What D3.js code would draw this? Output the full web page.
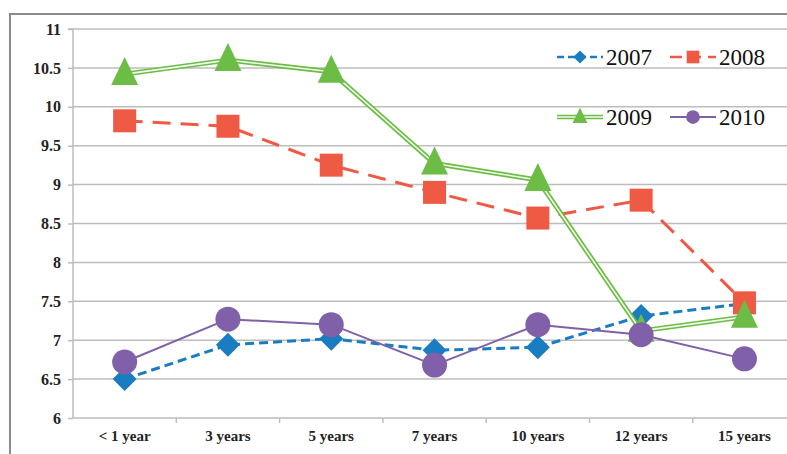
<!DOCTYPE html>
<html>
<head>
<meta charset="utf-8">
<script src="https://cdn.jsdelivr.net/npm/d3@7"></script>
<style>
  html, body { margin: 0; padding: 0; background: #fff; }
  svg { display: block; }
  .serif { font-family: "Liberation Serif", Tinos, "DejaVu Serif", "Noto Serif", serif; }
</style>
</head>
<body>
<svg id="chart" width="787" height="454"></svg>
<script>
// Categories along the x axis
const categories = ["< 1 year", "3 years", "5 years", "7 years", "10 years", "12 years", "15 years"];

// Series values, one per category
const values2007 = [6.50, 6.94, 7.02, 6.87, 6.91, 7.31, 7.47];
const values2008 = [9.82, 9.75, 9.25, 8.90, 8.57, 8.80, 7.48];
const values2009 = [10.42, 10.60, 10.45, 9.27, 9.06, 7.12, 7.30];
const values2010 = [6.72, 7.27, 7.20, 6.68, 7.20, 7.07, 6.76];

const seriesNames = ["2007", "2008", "2009", "2010"];
const yTicks = [6, 6.5, 7, 7.5, 8, 8.5, 9, 9.5, 10, 10.5, 11];

const series = [
  { name: seriesNames[0], values: values2007, color: "#1a7cc1", dash: "9,5", width: 3, marker: "diamond", double: false },
  { name: seriesNames[1], values: values2008, color: "#ef5a45", dash: "18,10", width: 3, marker: "square", double: false },
  { name: seriesNames[2], values: values2009, color: "#6cbd45", dash: null, width: 5, marker: "triangle", double: true },
  { name: seriesNames[3], values: values2010, color: "#8060a8", dash: null, width: 2, marker: "circle", double: false }
];

const svg = d3.select("#chart");

// Outer chart frame
svg.append("rect")
  .attr("x", 10).attr("y", 14)
  .attr("width", 800).attr("height", 460)
  .attr("fill", "#fff")
  .attr("stroke", "#8a8a8a")
  .attr("stroke-width", 2);

const plotLeft = 73, plotTop = 29, plotBottom = 418, bandW = 103.3;
const x = d3.scaleBand().domain(categories).range([plotLeft, plotLeft + bandW * categories.length]).paddingInner(0).paddingOuter(0);
const y = d3.scaleLinear().domain([6, 11]).range([plotBottom, plotTop]);
const cx = c => x(c) + x.bandwidth() / 2;

// Horizontal gridlines
svg.append("g").selectAll("line").data(yTicks.filter(t => t > 6)).join("line")
  .attr("x1", plotLeft).attr("x2", 787)
  .attr("y1", d => y(d)).attr("y2", d => y(d))
  .attr("stroke", "#bdbdbd").attr("stroke-width", 1.5);

// Y axis
const yAxis = d3.axisLeft(y).tickValues(yTicks).tickSize(5).tickPadding(7)
  .tickFormat(d => d3.format("")(d));
const gy = svg.append("g").attr("transform", `translate(${plotLeft},0)`).call(yAxis);
gy.attr("font-family", null).attr("font-size", null);
gy.select(".domain").attr("stroke", "#bdbdbd").attr("stroke-width", 1.5).attr("d", `M-5,${plotTop}H0V${plotBottom}`);
gy.selectAll(".tick line").attr("stroke", "#bdbdbd").attr("stroke-width", 1.5);
gy.selectAll(".tick text")
  .attr("class", "serif")
  .style("font-weight", "bold").style("font-size", "16px").attr("fill", "#222");

// X axis
const xAxis = d3.axisBottom(x).tickSize(0).tickPadding(12);
const gx = svg.append("g").attr("transform", `translate(0,${plotBottom})`).call(xAxis);
gx.attr("font-family", null).attr("font-size", null);
gx.select(".domain").attr("stroke", "#bdbdbd").attr("stroke-width", 1.5).attr("d", `M${plotLeft},0H787`);
gx.selectAll(".tick text")
  .attr("class", "serif")
  .style("font-weight", "bold").style("font-size", "15px").attr("fill", "#222");
// Band boundary ticks
svg.append("g").selectAll("line").data(categories.slice(1)).join("line")
  .attr("x1", d => x(d)).attr("x2", d => x(d))
  .attr("y1", plotBottom).attr("y2", plotBottom + 5)
  .attr("stroke", "#bdbdbd").attr("stroke-width", 1.5);

// Marker shapes
function drawMarker(g, type, px, py, color, scale) {
  const s = scale || 1;
  if (type === "diamond") {
    const r = 12 * s;
    g.append("path").attr("d", `M${px},${py - r}L${px + r},${py}L${px},${py + r}L${px - r},${py}Z`).attr("fill", color);
  } else if (type === "square") {
    const h = 11.5 * s;
    g.append("rect").attr("x", px - h).attr("y", py - h).attr("width", 2 * h).attr("height", 2 * h).attr("fill", color);
  } else if (type === "triangle") {
    const w = 13.5 * s, hUp = 17 * s, hDn = 11 * s;
    g.append("path").attr("d", `M${px},${py - hUp}L${px + w},${py + hDn}L${px - w},${py + hDn}Z`).attr("fill", color);
  } else if (type === "circle") {
    g.append("circle").attr("cx", px).attr("cy", py).attr("r", 12.5 * s).attr("fill", color);
  }
}

const line = d3.line().x((d, i) => cx(categories[i])).y(d => y(d));

series.forEach(s => {
  const g = svg.append("g");
  const p = g.append("path").datum(s.values).attr("d", line)
    .attr("fill", "none").attr("stroke", s.color).attr("stroke-width", s.width)
    .attr("stroke-linejoin", "round");
  if (s.dash) p.attr("stroke-dasharray", s.dash);
  if (s.double) {
    g.append("path").datum(s.values).attr("d", line)
      .attr("fill", "none").attr("stroke", "#f4fbef").attr("stroke-width", 1.6);
  }
  s.values.forEach((v, i) => drawMarker(g, s.marker, cx(categories[i]), y(v), s.color));
});

// Legend
const legendItems = [
  { s: series[0], lx: 557, ly: 57 },
  { s: series[1], lx: 670, ly: 57 },
  { s: series[2], lx: 557, ly: 117 },
  { s: series[3], lx: 670, ly: 117 }
];
legendItems.forEach(({ s, lx, ly }) => {
  const g = svg.append("g");
  const lw = 46;
  const ln = g.append("line").attr("x1", lx).attr("x2", lx + lw).attr("y1", ly).attr("y2", ly)
    .attr("stroke", s.color).attr("stroke-width", s.double ? 4.5 : (s.width === 2 ? 2 : 2.5));
  if (s.dash) ln.attr("stroke-dasharray", s.name === "2007" ? "7,4" : "12,7");
  if (s.double) {
    g.append("line").attr("x1", lx).attr("x2", lx + lw).attr("y1", ly).attr("y2", ly)
      .attr("stroke", "#f4fbef").attr("stroke-width", 1.4);
  }
  drawMarker(g, s.marker, lx + lw / 2, ly, s.color, 0.55);
  g.append("text").attr("class", "serif").attr("x", lx + lw + 3).attr("y", ly + 8)
    .style("font-size", "23px").attr("fill", "#111").text(s.name);
});
</script>
</body>
</html>
